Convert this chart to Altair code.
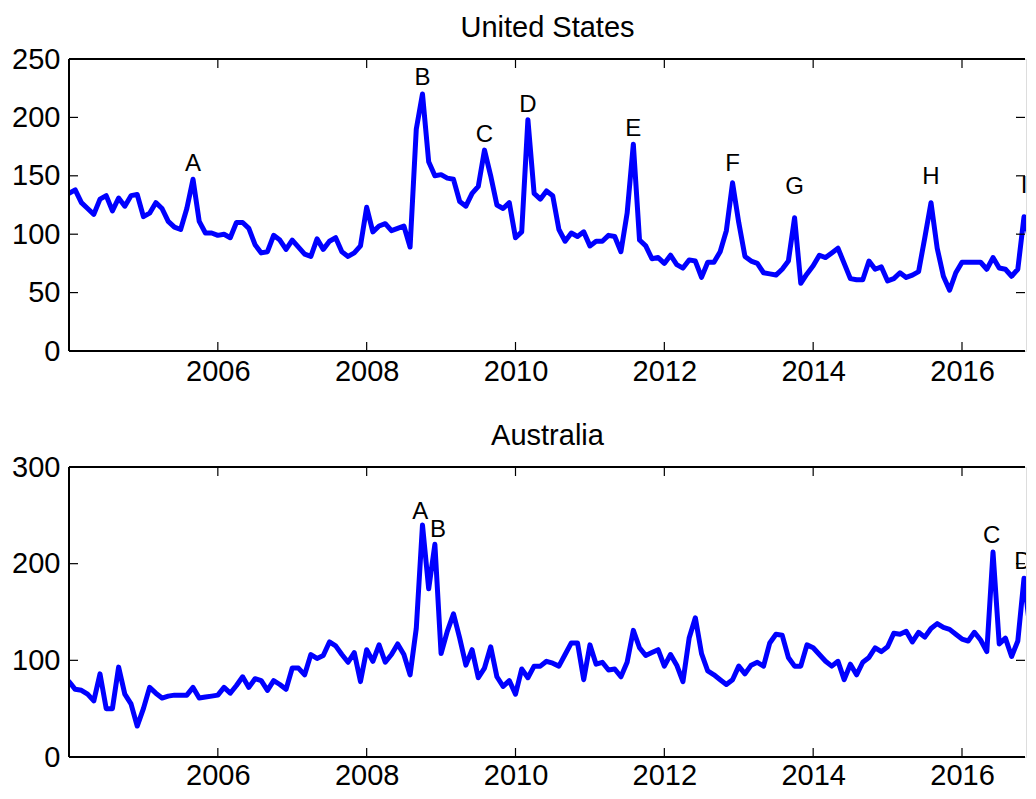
import altair as alt
import numpy as np
import pandas as pd

# monthly series, Jan 2004 onwards
us_values = [
    135, 138, 127, 122, 117, 130, 133, 120, 131, 124, 133, 134,
    115, 118, 127, 122, 111, 106, 104, 122, 147, 111, 101, 101,
    99, 100, 97, 110, 110, 105, 91, 84, 85, 99, 95, 87,
    95, 89, 83, 81, 96, 87, 94, 97, 85, 81, 84, 90,
    123, 102, 107, 109, 103, 105, 107, 89, 190, 220, 162, 150,
    151, 148, 147, 128, 124, 135, 141, 172, 150, 125, 122, 127,
    97, 102, 198, 135, 130, 137, 133, 104, 94, 101, 98, 102,
    90, 94, 94, 99, 98, 85, 118, 177, 95, 90, 79, 80,
    75, 82, 74, 71, 78, 77, 63, 76, 76, 85, 103, 144,
    110, 81, 77, 75, 67, 66, 65, 70, 77, 114, 58, 66,
    73, 82, 80, 84, 88, 75, 62, 61, 61, 77, 70, 72,
    60, 62, 67, 63, 65, 68, 97, 127, 88, 64, 52, 67,
    76, 76, 76, 76, 70, 80, 71, 70, 64, 70, 115, 95,
]
au_values = [
    78, 70, 69, 65, 58, 86, 50, 50, 93, 65, 55, 32,
    50, 72, 66, 61, 63, 64, 64, 64, 72, 61, 62, 63,
    64, 72, 66, 74, 83, 72, 81, 79, 69, 79, 75, 70,
    92, 92, 85, 106, 102, 105, 119, 115, 106, 98, 108, 78,
    111, 99, 116, 98, 106, 117, 106, 85, 133, 240, 174, 220,
    107, 130, 148, 123, 95, 111, 82, 92, 114, 83, 73, 79,
    65, 91, 82, 94, 94, 99, 97, 94, 106, 118, 118, 80,
    116, 96, 98, 90, 91, 83, 98, 131, 113, 105, 108, 111,
    94, 106, 95, 78, 123, 144, 107, 89, 85, 80, 75, 80,
    94, 86, 95, 98, 94, 118, 127, 126, 103, 94, 94, 116,
    113, 106, 99, 94, 99, 80, 96, 85, 98, 103, 113, 109,
    114, 128, 127, 130, 119, 129, 124, 133, 138, 134, 132, 127,
    122, 120, 129, 121, 109, 212, 117, 123, 104, 120, 185, 130,
]
years = 2004 + np.arange(len(us_values)) / 12

us_letters = ["A", "B", "C", "D", "E", "F", "G", "H", "I"]
us_label_year = [2005.667, 2008.75, 2009.583, 2010.167, 2011.583, 2012.917, 2013.75, 2015.583, 2016.833]
us_label_value = [160, 234, 185, 211, 190, 160, 140, 149, 141]

au_letters = ["A", "B", "C", "D"]
au_label_year = [2008.72, 2008.96, 2016.40, 2016.82]
au_label_value = [253, 235, 229, 202]

year_ticks = [2006, 2008, 2010, 2012, 2014, 2016]
us_ticks = [0, 50, 100, 150, 200, 250]
au_ticks = [0, 100, 200, 300]

W = 957
TICK = 9
FONT = "Liberation Sans"
# the original frame runs a little past the right edge of the picture
X_END = 2016.86


def panel(values, title, H, y_max, y_ticks, letters, label_year, label_value, xpad):
    x_scale = alt.Scale(domain=[2004, X_END], nice=False, zero=False)
    y_scale = alt.Scale(domain=[0, y_max], nice=False)
    x_axis = alt.Axis(values=year_ticks, format="d", title=None, grid=False, domain=False,
                      ticks=False, tickSize=0, labelPadding=xpad, labelFont=FONT,
                      labelFontSize=29, labelColor="black", labelFlush=False)
    y_axis = alt.Axis(values=y_ticks, format="d", title=None, grid=False, domain=False,
                      ticks=False, tickSize=0, labelPadding=9, labelFont=FONT,
                      labelFontSize=29, labelColor="black", labelFlush=False)
    x_enc = alt.X("year:Q", scale=x_scale, axis=x_axis)
    y_enc = alt.Y("value:Q", scale=y_scale, axis=y_axis)

    df = pd.DataFrame({"year": years, "value": values})
    line = alt.Chart(df).mark_line(
        color="#0000ff", strokeWidth=5, strokeJoin="round", strokeCap="round", clip=True
    ).encode(x=x_enc, y=y_enc)

    lab = pd.DataFrame({"year": label_year, "value": label_value, "label": letters})
    labels = alt.Chart(lab).mark_text(
        font=FONT, fontSize=24, color="black", baseline="middle", clip=True
    ).encode(x=x_enc, y=y_enc, text="label:N")

    # box on three sides (right side lies outside the picture)
    one = pd.DataFrame({"k": [0]})
    edge = dict(color="black", strokeWidth=2)
    top_edge = alt.Chart(one).mark_rule(**edge).encode(
        x=alt.value(0), x2=alt.value(W - 1), y=alt.value(0))
    bottom_edge = alt.Chart(one).mark_rule(**edge).encode(
        x=alt.value(0), x2=alt.value(W - 1), y=alt.value(H))
    left_edge = alt.Chart(one).mark_rule(**edge).encode(
        x=alt.value(0), y=alt.value(0), y2=alt.value(H))

    # inward ticks on all four sides
    xt = pd.DataFrame({"year": year_ticks})
    yt = pd.DataFrame({"value": y_ticks})
    tick = dict(color="black", strokeWidth=1.2)
    bottom = alt.Chart(xt).mark_rule(**tick).encode(
        x=x_enc, y=alt.value(H), y2=alt.value(H - TICK))
    top = alt.Chart(xt).mark_rule(**tick).encode(
        x=x_enc, y=alt.value(0), y2=alt.value(TICK))
    left = alt.Chart(yt).mark_rule(**tick).encode(
        y=y_enc, x=alt.value(0), x2=alt.value(TICK))
    right = alt.Chart(yt).mark_rule(**tick).encode(
        y=y_enc, x=alt.value(W - 1), x2=alt.value(W - 1 - TICK))

    return alt.layer(
        line, labels, top_edge, bottom_edge, left_edge, bottom, top, left, right
    ).properties(
        width=W, height=H,
        title=alt.TitleParams(title, font=FONT, fontSize=29, fontWeight="normal",
                              color="black", offset=2, anchor="middle"),
    )


us = panel(us_values, "United States", 292, 250, us_ticks, us_letters,
           us_label_year, us_label_value, 6)
au = panel(au_values, "Australia", 290, 300, au_ticks, au_letters,
           au_label_year, au_label_value, 4)

chart = alt.vconcat(us, au, spacing=34).properties(
    padding={"left": 3, "top": 5, "right": 0, "bottom": 0}
).configure_view(strokeOpacity=0).configure(background="white")

chart.save("out.html", embed_options={"renderer": "svg", "actions": False})
